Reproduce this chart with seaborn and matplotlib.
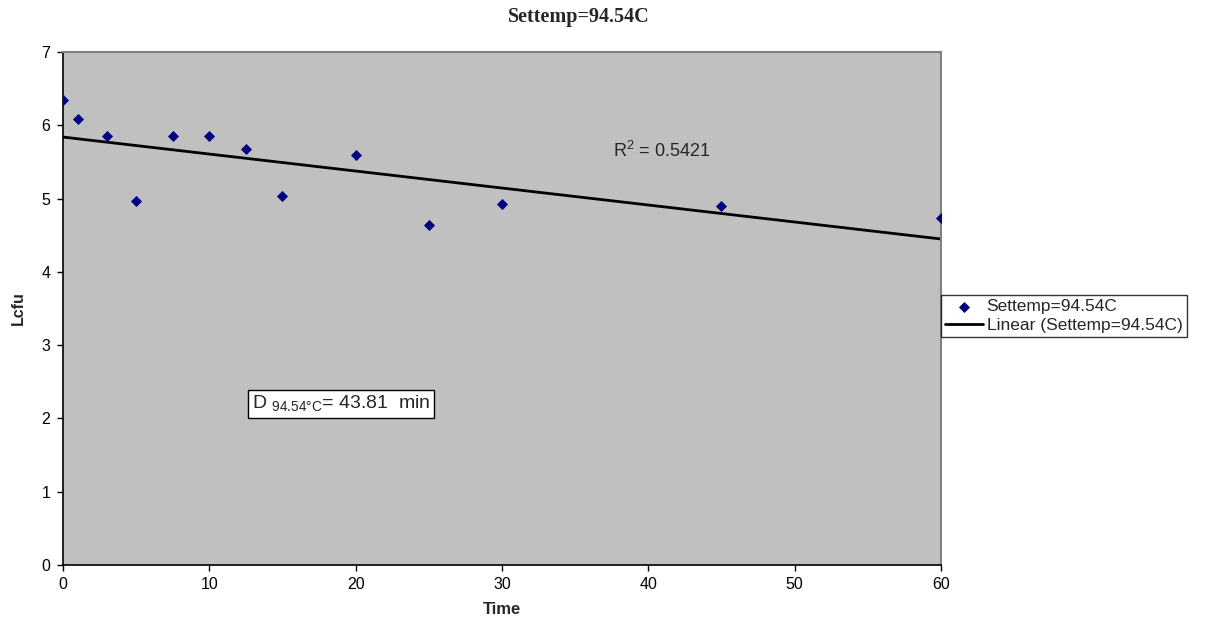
import numpy as np
import seaborn as sns
import matplotlib.pyplot as plt
import pandas as pd

# readings
time = [0, 1, 3, 5, 7.5, 10, 12.5, 15, 20, 25, 30, 45, 60]
lcfu = [6.35, 6.09, 5.85, 4.97, 5.86, 5.86, 5.67, 5.03, 5.60, 4.64, 4.93, 4.90, 4.74]
label = "Settemp=94.54C"

sns.set_style("white")
plt.rcParams['font.family'] = ['Liberation Sans', 'DejaVu Sans']
plt.rcParams['mathtext.fontset'] = 'custom'
plt.rcParams['mathtext.rm'] = 'Liberation Sans'

df = pd.DataFrame({"Time": time, "Lcfu": lcfu})

# linear trend over the full range
slope, icpt = np.polyfit(df["Time"], df["Lcfu"], 1)
fit = pd.DataFrame({"Time": [0, 60]})
fit["Lcfu"] = icpt + slope * fit["Time"]

fig = plt.figure(figsize=(12.11, 6.23), dpi=100)
ax = fig.add_axes([0.052, 0.0931, 0.725, 0.8234])
ax.set_facecolor("#c0c0c0")

sns.scatterplot(data=df, x="Time", y="Lcfu", ax=ax, marker="D", s=32,
                color="#000080", edgecolor="#000080", linewidth=0, label=label,
                zorder=3)
sns.lineplot(data=fit, x="Time", y="Lcfu", ax=ax, color="black", linewidth=2,
             label="Linear (" + label + ")", zorder=2)

ax.set_xlim(0, 60)
ax.set_ylim(0, 7)
ax.set_xticks(range(0, 61, 10))
ax.set_yticks(range(0, 8))
ax.tick_params(axis="both", direction="out", length=4, width=1, colors="black",
               labelsize=11.5, bottom=True, left=True, pad=5)
for s in ["left", "bottom"]:
    ax.spines[s].set_color("black")
    ax.spines[s].set_linewidth(1.2)
for s in ["top", "right"]:
    ax.spines[s].set_color("#808080")
    ax.spines[s].set_linewidth(1.5)

ax.set_xlabel("Time", fontsize=12, fontweight="bold", labelpad=7)
ax.set_ylabel("Lcfu", fontsize=11.5, fontweight="bold", labelpad=11)
fig.suptitle(label, x=0.478, y=0.988, fontsize=14.5, fontweight="bold",
             family="Liberation Serif")

ax.text(37.6, 5.65, r"R$^2$ = 0.5421", fontsize=13, ha="left", va="center")
ax.text(12.9, 2.2, r"D $_{\mathregular{94.54°C}}$= 43.81  min", fontsize=14,
        ha="left", va="center",
        bbox=dict(boxstyle="square,pad=0.2", facecolor="white",
                  edgecolor="black", linewidth=1))

leg = ax.legend(loc="upper left", bbox_to_anchor=(0.9996, 0.527), frameon=True,
                fancybox=False, fontsize=12.5, handlelength=2.2,
                handletextpad=0.2, borderpad=0.25, labelspacing=0.2,
                borderaxespad=0)
leg.get_frame().set_edgecolor("black")
leg.get_frame().set_linewidth(1)

fig.savefig("out.png", dpi=100)
